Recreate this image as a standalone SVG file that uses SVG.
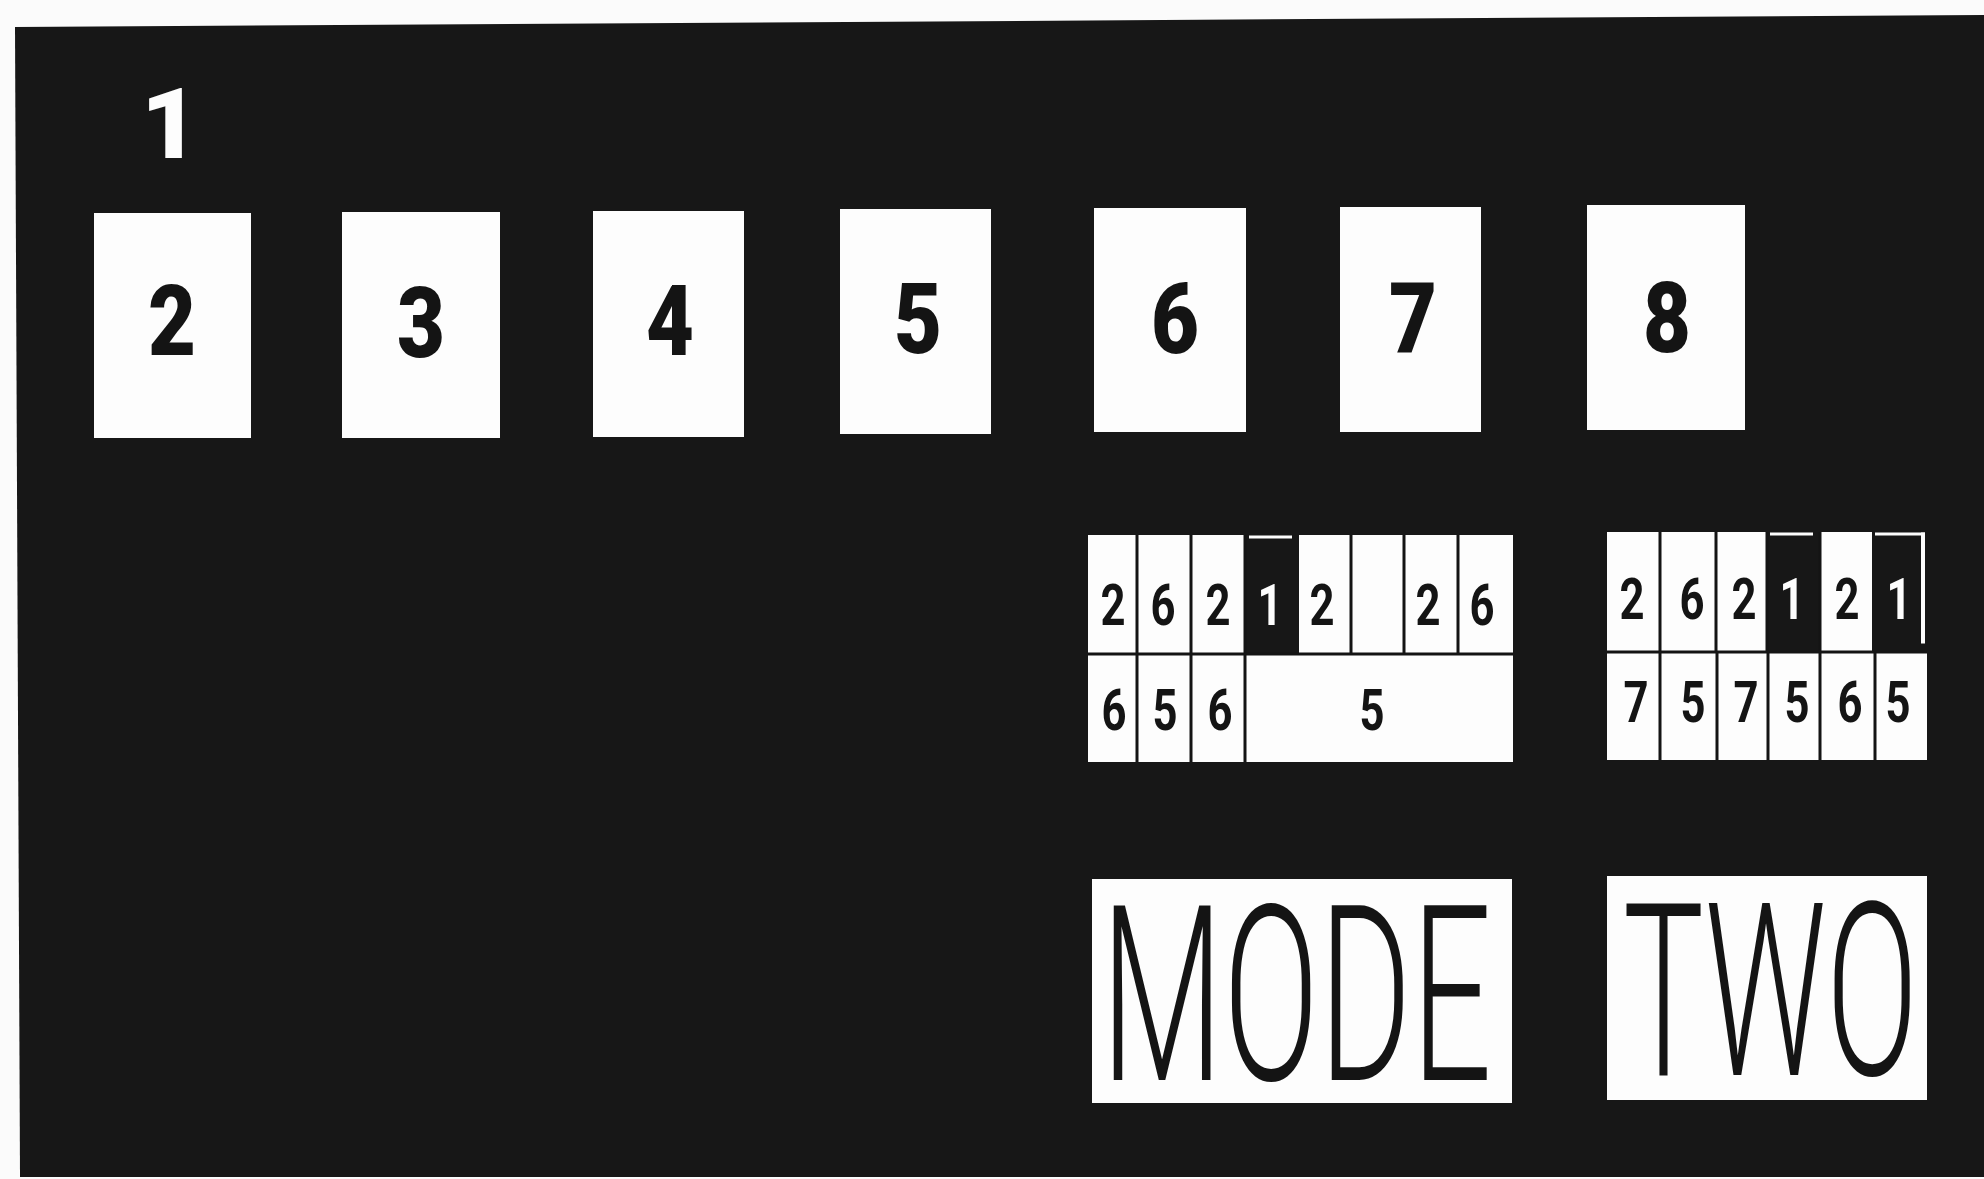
<svg xmlns="http://www.w3.org/2000/svg" width="1984" height="1179" viewBox="0 0 1984 1179">
<style>
.card{fill:#fdfdfd}
.big{font-family:Roboto,"Liberation Sans",sans-serif;font-weight:900;font-size:98px;fill:#141414;text-anchor:middle}
.sm{font-family:Roboto,"Liberation Sans",sans-serif;font-weight:bold;font-size:57px;fill:#141414;text-anchor:middle}
.smw{fill:#fdfdfd}
.div{stroke:#141414;stroke-width:3;fill:none}
.blk{fill:#171717}
.word{font-family:Roboto,"Liberation Sans",sans-serif;font-weight:300;fill:#141414}
</style>
<rect x="0" y="0" width="1984" height="1179" fill="#fbfbfb"/>
<polygon points="15,27 1984,15 1984,1177 20,1177" fill="#171717"/>

<g id="label-1">
<text x="170" y="158" class="big" style="fill:#fdfdfd" textLength="58" lengthAdjust="spacingAndGlyphs">1</text>
</g>

<g id="card-2"><rect class="card" x="94" y="213" width="157" height="225"/><text class="big" x="172" y="355" textLength="48" lengthAdjust="spacingAndGlyphs">2</text></g>
<g id="card-3"><rect class="card" x="342" y="212" width="158" height="226"/><text class="big" x="421" y="357" textLength="48" lengthAdjust="spacingAndGlyphs">3</text></g>
<g id="card-4"><rect class="card" x="593" y="211" width="151" height="226"/><text class="big" x="670" y="355" textLength="48" lengthAdjust="spacingAndGlyphs">4</text></g>
<g id="card-5"><rect class="card" x="840" y="209" width="151" height="225"/><text class="big" x="918" y="353" textLength="48" lengthAdjust="spacingAndGlyphs">5</text></g>
<g id="card-6"><rect class="card" x="1094" y="208" width="152" height="224"/><text class="big" x="1175" y="353" textLength="48" lengthAdjust="spacingAndGlyphs">6</text></g>
<g id="card-7"><rect class="card" x="1340" y="207" width="141" height="225"/><text class="big" x="1413" y="353" textLength="48" lengthAdjust="spacingAndGlyphs">7</text></g>
<g id="card-8"><rect class="card" x="1587" y="205" width="158" height="225"/><text class="big" x="1667" y="352" textLength="48" lengthAdjust="spacingAndGlyphs">8</text></g>

<g id="table-mode">
<rect class="card" x="1088" y="535" width="425" height="227"/>
<rect class="blk" x="1245" y="535" width="54" height="119"/>
<rect class="card" x="1249" y="535.5" width="43" height="3"/>
<path class="div" d="M1088,654H1513M1137,535V762M1191,535V762M1245,535V762M1351,535V654M1404,535V654M1458,535V654"/>
<text class="sm" x="1113" y="625" textLength="25" lengthAdjust="spacingAndGlyphs">2</text>
<text class="sm" x="1163" y="625" textLength="25" lengthAdjust="spacingAndGlyphs">6</text>
<text class="sm" x="1218" y="625" textLength="25" lengthAdjust="spacingAndGlyphs">2</text>
<text class="sm smw" x="1270" y="625" textLength="25" lengthAdjust="spacingAndGlyphs">1</text>
<text class="sm" x="1322" y="625" textLength="25" lengthAdjust="spacingAndGlyphs">2</text>
<text class="sm" x="1428" y="625" textLength="25" lengthAdjust="spacingAndGlyphs">2</text>
<text class="sm" x="1482" y="625" textLength="25" lengthAdjust="spacingAndGlyphs">6</text>
<text class="sm" x="1114" y="730" textLength="25" lengthAdjust="spacingAndGlyphs">6</text>
<text class="sm" x="1165" y="730" textLength="25" lengthAdjust="spacingAndGlyphs">5</text>
<text class="sm" x="1220" y="730" textLength="25" lengthAdjust="spacingAndGlyphs">6</text>
<text class="sm" x="1372" y="730" textLength="25" lengthAdjust="spacingAndGlyphs">5</text>
</g>

<g id="table-two">
<rect class="card" x="1607" y="532" width="320" height="228"/>
<rect class="blk" x="1767" y="532" width="53" height="120"/>
<rect class="card" x="1770" y="532.5" width="43" height="3"/>
<rect class="blk" x="1872" y="532" width="55" height="120"/>
<rect class="card" x="1875" y="532.5" width="50" height="3"/>
<rect class="card" x="1921" y="532.5" width="4" height="111"/>
<path class="div" d="M1607,652H1927M1660,532V760M1716,532V652M1717,652V760M1767,532V652M1768,652V760M1820,532V760M1875,652V760"/>
<text class="sm" x="1632" y="619" textLength="25" lengthAdjust="spacingAndGlyphs">2</text>
<text class="sm" x="1692" y="619" textLength="25" lengthAdjust="spacingAndGlyphs">6</text>
<text class="sm" x="1744" y="619" textLength="25" lengthAdjust="spacingAndGlyphs">2</text>
<text class="sm smw" x="1792" y="619" textLength="25" lengthAdjust="spacingAndGlyphs">1</text>
<text class="sm" x="1847" y="619" textLength="25" lengthAdjust="spacingAndGlyphs">2</text>
<text class="sm smw" x="1899" y="619" textLength="25" lengthAdjust="spacingAndGlyphs">1</text>
<text class="sm" x="1636" y="722" textLength="25" lengthAdjust="spacingAndGlyphs">7</text>
<text class="sm" x="1693" y="722" textLength="25" lengthAdjust="spacingAndGlyphs">5</text>
<text class="sm" x="1746" y="722" textLength="25" lengthAdjust="spacingAndGlyphs">7</text>
<text class="sm" x="1797" y="722" textLength="25" lengthAdjust="spacingAndGlyphs">5</text>
<text class="sm" x="1850" y="722" textLength="25" lengthAdjust="spacingAndGlyphs">6</text>
<text class="sm" x="1898" y="722" textLength="25" lengthAdjust="spacingAndGlyphs">5</text>
</g>

<g id="sign-mode">
<rect class="card" x="1092" y="879" width="420" height="224"/>
<text class="word" transform="translate(1101,1080) scale(1,1.75)" x="0" y="0" font-size="140" textLength="391" lengthAdjust="spacingAndGlyphs">MODE</text>
</g>
<g id="sign-two">
<rect class="card" x="1607" y="876" width="320" height="224"/>
<text class="word" transform="translate(1623,1075) scale(1,1.79)" x="0" y="0" font-size="135" textLength="295" lengthAdjust="spacingAndGlyphs">TWO</text>
</g>
<g id="connectors"/>
</svg>
